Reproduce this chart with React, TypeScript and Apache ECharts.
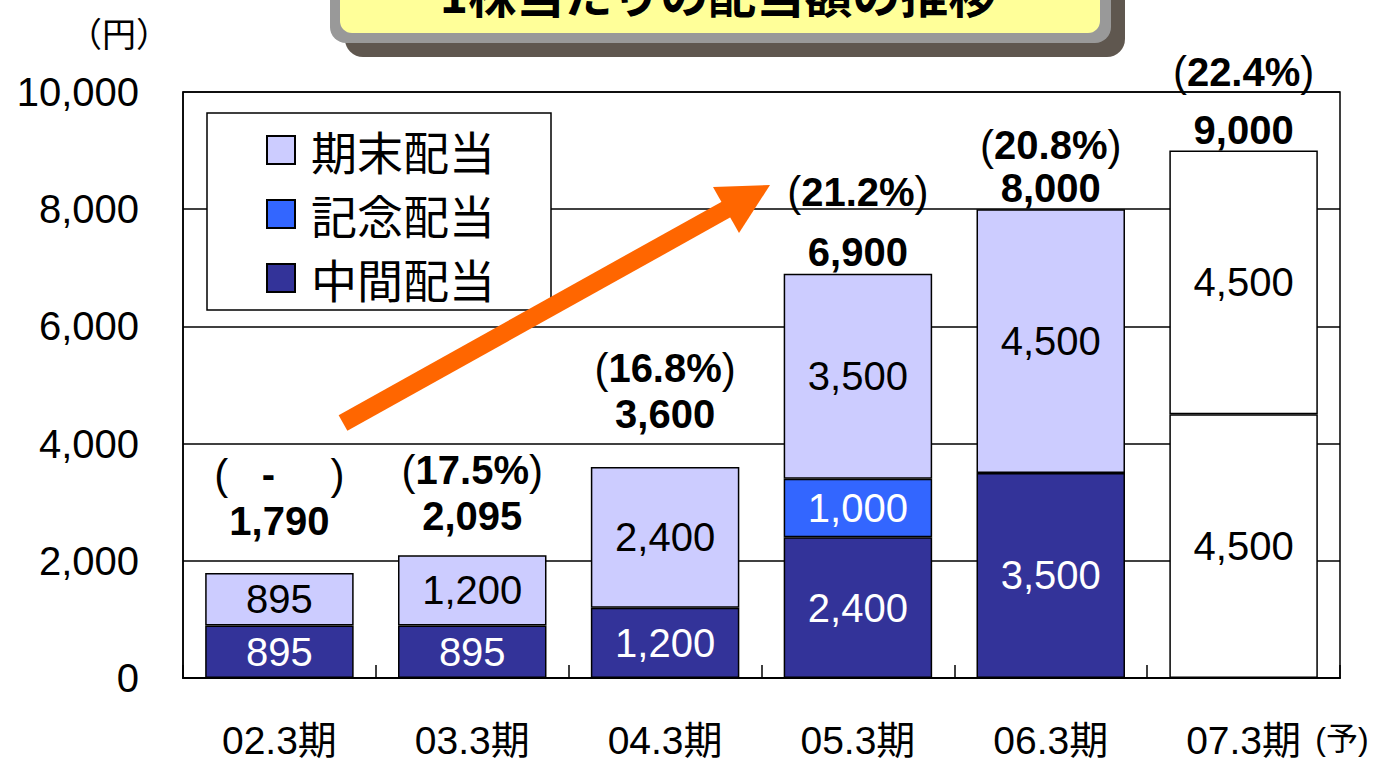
import React, { useEffect, useRef } from 'react';
import * as echarts from 'echarts';

// ---- data ----
const categories = ['02.3期', '03.3期', '04.3期', '05.3期', '06.3期', '07.3期'];
const interimDividend = [895, 895, 1200, 2400, 3500, 4500];
const commemorativeDividend: (number | null)[] = [null, null, null, 1000, null, null];
const yearEndDividend = [895, 1200, 2400, 3500, 4500, 4500];
const totalDividend = [1790, 2095, 3600, 6900, 8000, 9000];
const payoutRatio: (number | null)[] = [null, 17.5, 16.8, 21.2, 20.8, 22.4];
const forecastIndex = 5;
const seriesNames = ['中間配当', '記念配当', '期末配当'];
const legendOrder = ['期末配当', '記念配当', '中間配当'];
const titleText = '1株当たりの配当額の推移';
const unitText = '（円）';
const forecastText = '(予)';

// ---- label placement (pixels above the bar top) ----
const totalLift = [32, 19, 33, 2, 1, 1];
const ratioLift = [79, 65, 79, 62, 44, 59];

const FONT = '"Liberation Sans", Arial, "Noto Sans CJK JP", sans-serif';
const CJK = '"Noto Sans CJK JP", "Liberation Sans", sans-serif';
const fmt = (v: number) => v.toLocaleString('en-US');

export default function App() {
  const ref = useRef<HTMLDivElement>(null);
  useEffect(() => {
    const chart = echarts.init(ref.current!, null, { renderer: 'svg' });
    const colors = ['#333399', '#3366FF', '#CCCCFF'];
    const segData = (arr: (number | null)[], labelColor: string) =>
      arr.map((v, i) =>
        i === forecastIndex
          ? { value: v, itemStyle: { color: '#FFFFFF' }, label: { color: '#000' } }
          : { value: v === null ? '-' : v, label: { color: labelColor } }
      );
    const barBase = (name: string, color: string) => ({
      name,
      type: 'bar',
      stack: 'total',
      barWidth: '77%',
      itemStyle: { color, borderColor: '#000', borderWidth: 1.5 },
      label: {
        show: true,
        position: 'inside',
        fontSize: 40,
        fontFamily: FONT,
        formatter: (p: any) => fmt(p.value),
      },
    });
    const option: any = {
      animation: false,
      backgroundColor: '#fff',
      grid: {
        left: 183,
        right: 40,
        top: 92,
        bottom: 85,
        show: true,
        borderColor: '#000',
        borderWidth: 1.5,
        outerBoundsMode: 'none',
        containLabel: false,
      },
      legend: {
        data: legendOrder,
        orient: 'vertical',
        left: 207,
        top: 113,
        icon: 'rect',
        itemWidth: 28,
        itemHeight: 28,
        itemGap: 18,
        padding: [14, 56, 9, 59],
        backgroundColor: '#fff',
        borderColor: '#000',
        borderWidth: 1.5,
        borderRadius: 0,
        textStyle: {
          fontSize: 46,
          lineHeight: 44,
          fontFamily: CJK,
          color: '#000',
          padding: [0, 0, 0, 11],
        },
        selectedMode: false,
        z: 5,
      },
      xAxis: {
        type: 'category',
        data: categories,
        axisLine: { lineStyle: { color: '#000', width: 2 } },
        axisTick: { show: true, inside: true, length: 13, lineStyle: { color: '#000', width: 1.5 } },
        axisLabel: {
          margin: 43,
          fontSize: 39,
          lineHeight: 39,
          color: '#000',
          fontFamily: FONT,
        },
      },
      yAxis: {
        type: 'value',
        min: 0,
        max: 10000,
        interval: 2000,
        axisLine: { show: true, lineStyle: { color: '#000', width: 1.5 } },
        axisTick: { show: false },
        splitLine: { lineStyle: { color: '#000', width: 1.5 } },
        axisLabel: {
          margin: 44,
          fontSize: 40,
          color: '#000',
          fontFamily: FONT,
          formatter: (v: number) => fmt(v),
        },
      },
      series: [
        { ...barBase(seriesNames[0], colors[0]), data: segData(interimDividend, '#fff') },
        { ...barBase(seriesNames[1], colors[1]), data: segData(commemorativeDividend, '#fff') },
        { ...barBase(seriesNames[2], colors[2]), data: segData(yearEndDividend, '#000') },
        {
          name: 'total',
          type: 'scatter',
          symbolSize: 0,
          silent: true,
          z: 10,
          itemStyle: { opacity: 1 },
          data: totalDividend.map((v, i) => ({ value: v, label: { distance: totalLift[i] } })),
          label: {
            show: true,
            position: 'top',
            fontSize: 40,
            lineHeight: 40,
            fontWeight: 'bold',
            color: '#000',
            fontFamily: FONT,
            formatter: (p: any) => fmt(p.value),
          },
        },
        {
          name: 'ratio',
          type: 'scatter',
          symbolSize: 0,
          silent: true,
          z: 10,
          itemStyle: { opacity: 1 },
          data: totalDividend.map((v, i) => ({ value: v, label: { distance: ratioLift[i] } })),
          label: {
            show: true,
            position: 'top',
            lineHeight: 40,
            color: '#000',
            formatter: (p: any) => {
              const r = payoutRatio[p.dataIndex];
              return r === null ? '{r|(}{b|   -     }{r|)}' : `{r|(}{b|${r.toFixed(1)}%}{r|)}`;
            },
            rich: {
              r: { fontSize: 42, fontFamily: FONT, color: '#000', lineHeight: 40 },
              b: { fontSize: 40, fontWeight: 'bold', fontFamily: FONT, color: '#000', lineHeight: 40 },
            },
          },
        },
      ],
      graphic: [
        { type: 'rect', z: 100, shape: { x: 345, y: -40, width: 780, height: 97, r: 18 }, style: { fill: '#5F574F' } },
        { type: 'rect', z: 101, shape: { x: 330, y: -40, width: 781, height: 83, r: 16 }, style: { fill: '#999999' } },
        { type: 'rect', z: 102, shape: { x: 340, y: -40, width: 760, height: 73, r: 12 }, style: { fill: '#FFFF99' } },
        {
          type: 'text',
          z: 103,
          style: {
            text: titleText,
            x: 718,
            y: 16,
            align: 'center',
            verticalAlign: 'bottom',
            fontSize: 48,
            fontWeight: 'bold',
            fontFamily: CJK,
            fill: '#000',
          },
        },
        {
          type: 'text',
          z: 100,
          style: {
            text: unitText,
            x: 119,
            y: 32,
            align: 'center',
            verticalAlign: 'middle',
            fontSize: 34,
            fontFamily: CJK,
            fill: '#000',
          },
        },
        {
          type: 'text',
          z: 100,
          style: {
            text: forecastText,
            x: 1342,
            y: 739,
            align: 'center',
            verticalAlign: 'middle',
            fontSize: 32,
            fontFamily: FONT,
            fill: '#000',
          },
        },
        {
          type: 'line',
          z: 110,
          shape: { x1: 343, y1: 423, x2: 727, y2: 209 },
          style: { stroke: '#FF6600', lineWidth: 18, lineCap: 'butt' },
        },
        {
          type: 'polygon',
          z: 110,
          shape: { points: [[770, 185], [713, 187], [739, 233]] },
          style: { fill: '#FF6600' },
        },
      ],
    };
    chart.setOption(option);
    return () => chart.dispose();
  }, []);
  return (
    <div
      ref={ref}
      style={{ position: 'fixed', left: 0, top: 0, width: 1380, height: 763, background: '#fff' }}
    />
  );
}
